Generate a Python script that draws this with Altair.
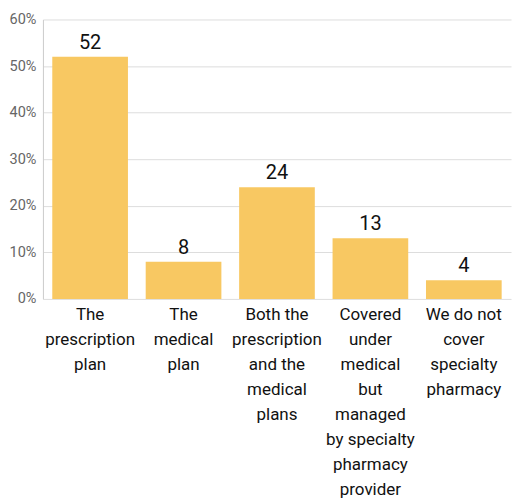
import altair as alt
import pandas as pd

categories = [
    "The|prescription|plan",
    "The|medical|plan",
    "Both the|prescription|and the|medical|plans",
    "Covered|under|medical|but|managed|by specialty|pharmacy|provider",
    "We do not|cover|specialty|pharmacy",
]
values = [52, 8, 24, 13, 4]
y_ticks = [0, 10, 20, 30, 40, 50, 60]

df = pd.DataFrame({"category": categories, "value": values})

x = alt.X(
    "category:N",
    sort=categories,
    title=None,
    scale=alt.Scale(paddingInner=0.19, paddingOuter=0.1),
    axis=alt.Axis(
        labelExpr="split(datum.label, '|')",
        labelAngle=0,
        labelFontSize=17,
        labelLineHeight=25,
        labelColor="#111111",
        labelFont="Roboto",
        labelPadding=8,
        ticks=False,
        domain=False,
        labelLimit=200,
    ),
)
y = alt.Y(
    "value:Q",
    title=None,
    scale=alt.Scale(domain=[0, 60], nice=False),
    axis=alt.Axis(
        values=y_ticks,
        labelExpr="datum.value + '%'",
        labelFontSize=14.5,
        labelColor="#666666",
        labelFont="Roboto",
        ticks=False,
        labelPadding=7,
        domainColor="#cccccc",
        gridColor="#dddddd",
    ),
)

bars = alt.Chart(df).mark_bar(color="#F8C862").encode(x=x, y=y)
text = alt.Chart(df).mark_text(
    baseline="bottom", dy=-4, fontSize=20, color="#111111", font="Roboto"
).encode(x=x, y=y, text="value:Q")

chart = (
    (bars + text)
    .properties(width=469, height=280, padding={"left": 1, "top": 3, "right": 5, "bottom": 5})
    .configure_view(stroke=None)
)
chart.save("out.html", embed_options={"renderer": "svg", "actions": False})
